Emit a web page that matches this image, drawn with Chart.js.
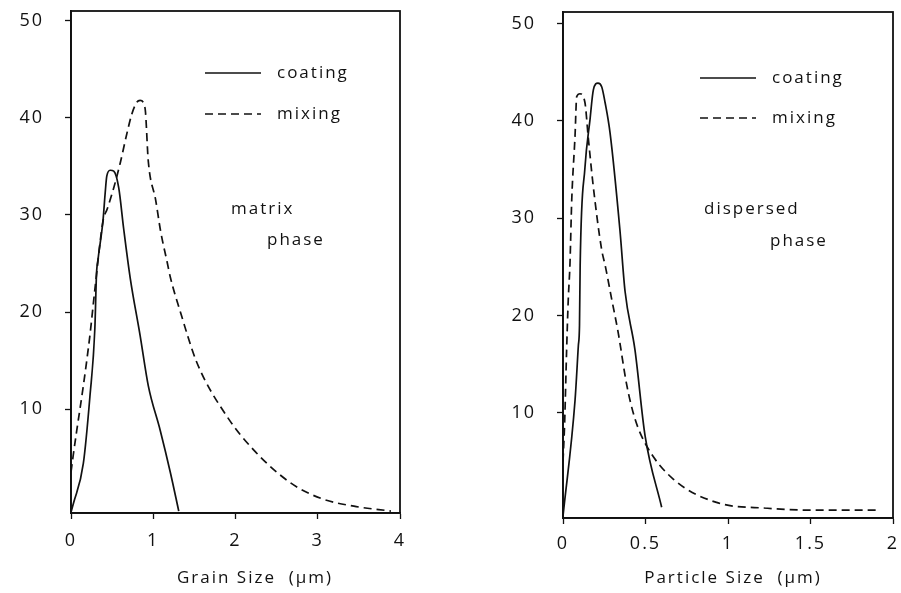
<!DOCTYPE html>
<html>
<head>
<meta charset="utf-8">
<script src="https://cdn.jsdelivr.net/npm/chart.js@4.4.1/dist/chart.umd.min.js"></script>
<style>
  html, body { margin: 0; padding: 0; background: #fff; }
  #wrap { position: relative; width: 901px; height: 593px; }
  canvas { position: absolute; top: 0; }
  #left { left: 0; }
  #right { left: 450px; }
</style>
</head>
<body>
<div id="wrap">
  <canvas id="left" width="450" height="593"></canvas>
  <canvas id="right" width="451" height="593"></canvas>
</div>
<script>
// matrix phase (left panel), grain size in um
const matrixCoatingX = [0, 0.03, 0.15, 0.23, 0.29, 0.31, 0.33, 0.39, 0.415, 0.435, 0.476, 0.52, 0.58, 0.64, 0.72, 0.84, 0.94, 1.085, 1.21, 1.31]
const matrixCoatingY = [-0.6, 0.3, 4.4, 11.3, 18.3, 23.9, 25.5, 29.5, 32.2, 34.0, 34.6, 34.5, 32.8, 28.6, 23.5, 17.6, 12.4, 7.8, 3.4, -0.5]
const matrixMixingX = [0, 0.02, 0.07, 0.15, 0.23, 0.29, 0.39, 0.44, 0.52, 0.60, 0.68, 0.74, 0.80, 0.84, 0.90, 0.94, 1.03, 1.09, 1.17, 1.21, 1.33, 1.53, 1.9, 2.22, 2.67, 3.04, 3.44, 3.89]
const matrixMixingY = [3.5, 4.8, 7.8, 12.4, 17.6, 22.3, 29.4, 30.6, 32.8, 35.4, 38.4, 40.4, 41.6, 41.8, 41.0, 35.5, 31.5, 28.3, 25.1, 23.5, 20.0, 14.8, 9.2, 5.8, 2.4, 0.8, 0, -0.5]

// dispersed phase (right panel), particle size in um
const dispersedCoatingX = [0, 0.073, 0.093, 0.100, 0.104, 0.133, 0.164, 0.184, 0.212, 0.235, 0.255, 0.285, 0.345, 0.376, 0.436, 0.497, 0.598]
const dispersedCoatingY = [-0.6, 11.3, 16.9, 19.0, 25.2, 35.2, 40.2, 43.2, 43.9, 43.5, 41.9, 38.8, 28.8, 22.5, 16.5, 7.7, 0.3]
const dispersedMixingX = [0, 0.01, 0.022, 0.032, 0.042, 0.053, 0.073, 0.083, 0.103, 0.133, 0.152, 0.182, 0.234, 0.255, 0.295, 0.335, 0.386, 0.436, 0.507, 0.668, 0.93, 1.24, 1.54, 1.91]
const dispersedMixingY = [5, 9, 16.5, 21.7, 25.2, 31.9, 38.5, 42.5, 42.8, 41.9, 38.5, 33.5, 26.8, 25.2, 21.7, 18.2, 12.9, 9.4, 6.6, 3.2, 0.8, 0.2, 0, 0]

const seriesNames = ['coating', 'mixing']
const yTicks = [10, 20, 30, 40, 50]
const yLabels = ['10', '20', '30', '40', '50']
const grainTicks = [0, 1, 2, 3, 4]
const grainLabels = ['0', '1', '2', '3', '4']
const particleTicks = [0, 0.5, 1, 1.5, 2]
const particleLabels = ['0', '0.5', '1', '1.5', '2']

const ink = '#111'
const fontFamily = '"Open Sans", "DejaVu Sans", sans-serif'
const tickFont = { family: fontFamily, size: 18, weight: 400 }

const toPoints = (xs, ys) => xs.map((x, i) => ({ x, y: ys[i] }))

const decor = {
  id: 'decor',
  beforeDraw (chart) {
    chart.ctx.letterSpacing = '2px'
  },
  afterDraw (chart, args, o) {
    const { ctx, chartArea: a } = chart
    ctx.save()
    ctx.strokeStyle = ink
    ctx.lineWidth = 1.8
    ctx.strokeRect(a.left, a.top, a.right - a.left, a.bottom - a.top)

    ctx.font = '400 17px ' + fontFamily
    ctx.fillStyle = ink
    ctx.textBaseline = 'middle'
    ctx.textAlign = 'left'
    chart.data.datasets.forEach((ds, i) => {
      const y = o.legendY + i * o.legendGap
      ctx.lineWidth = 1.7
      ctx.setLineDash(ds.borderDash || [])
      ctx.beginPath()
      ctx.moveTo(o.legendX, y)
      ctx.lineTo(o.legendX + 56, y)
      ctx.stroke()
      ctx.setLineDash([])
      ctx.fillText(ds.label, o.legendX + 72, y)
    })
    o.notes.forEach(n => ctx.fillText(n.text, n.x, n.y))

    ctx.textAlign = 'center'
    ctx.fillText(o.title, o.titleX, o.titleY)
    ctx.restore()
  }
}

function makeChart (el, cfg) {
  // eslint-disable-next-line no-undef
  return new Chart(el, {
    type: 'line',
    data: {
      datasets: [
        { label: seriesNames[0], data: toPoints(cfg.coatingX, cfg.coatingY), borderColor: ink, borderWidth: 1.7, pointRadius: 0, cubicInterpolationMode: 'monotone' },
        { label: seriesNames[1], data: toPoints(cfg.mixingX, cfg.mixingY), borderColor: ink, borderWidth: 1.7, borderDash: [8, 5], pointRadius: 0, cubicInterpolationMode: 'monotone' }
      ]
    },
    options: {
      responsive: false,
      animation: false,
      layout: { padding: { left: 0, top: cfg.top, right: cfg.right, bottom: 0 } },
      plugins: {
        legend: { display: false },
        tooltip: { enabled: false },
        decor: cfg.decor
      },
      scales: {
        x: {
          type: 'linear',
          min: 0,
          max: cfg.xTicks[cfg.xTicks.length - 1],
          afterFit: s => {
            s.height = cfg.xHeight
            s.paddingLeft = 0
            s.paddingRight = 0
          },
          afterBuildTicks: s => { s.ticks = cfg.xTicks.map(v => ({ value: v })) },
          ticks: {
            color: ink,
            font: tickFont,
            padding: cfg.xPad,
            maxRotation: 0,
            autoSkip: false,
            callback: v => cfg.xLabels[cfg.xTicks.indexOf(v)]
          },
          grid: { drawOnChartArea: false, tickLength: 6, tickColor: ink, tickWidth: 1.3 },
          border: { color: ink, width: 1.8 }
        },
        y: {
          min: cfg.yMin,
          max: cfg.yMax,
          afterFit: s => {
            s.width = cfg.yWidth
            s.paddingTop = 0
            s.paddingBottom = 0
          },
          afterBuildTicks: s => { s.ticks = yTicks.map(v => ({ value: v })) },
          ticks: {
            color: ink,
            font: tickFont,
            padding: cfg.yPad,
            callback: v => yLabels[yTicks.indexOf(v)]
          },
          grid: { drawOnChartArea: false, tickLength: 6, tickColor: ink, tickWidth: 1.3 },
          border: { color: ink, width: 1.8 }
        }
      }
    },
    plugins: [decor]
  })
}

makeChart(document.getElementById('left'), {
  coatingX: matrixCoatingX,
  coatingY: matrixCoatingY,
  mixingX: matrixMixingX,
  mixingY: matrixMixingY,
  xTicks: grainTicks,
  xLabels: grainLabels,
  yMin: -0.7,
  yMax: 51,
  top: 11,
  right: 50,
  xHeight: 80,
  yWidth: 71,
  xPad: 11,
  yPad: 21,
  decor: {
    legendX: 205,
    legendY: 73,
    legendGap: 41,
    notes: [{ text: 'matrix', x: 231, y: 209 }, { text: 'phase', x: 267, y: 240 }],
    title: 'Grain Size  (µm)',
    titleX: 255,
    titleY: 578
  }
})

makeChart(document.getElementById('right'), {
  coatingX: dispersedCoatingX,
  coatingY: dispersedCoatingY,
  mixingX: dispersedMixingX,
  mixingY: dispersedMixingY,
  xTicks: particleTicks,
  xLabels: particleLabels,
  yMin: -0.8,
  yMax: 51.2,
  top: 12,
  right: 8,
  xHeight: 75,
  yWidth: 113,
  xPad: 9,
  yPad: 21,
  decor: {
    legendX: 250,
    legendY: 78,
    legendGap: 40,
    notes: [{ text: 'dispersed', x: 254, y: 209 }, { text: 'phase', x: 320, y: 241 }],
    title: 'Particle Size  (µm)',
    titleX: 283,
    titleY: 578
  }
})
</script>
</body>
</html>
